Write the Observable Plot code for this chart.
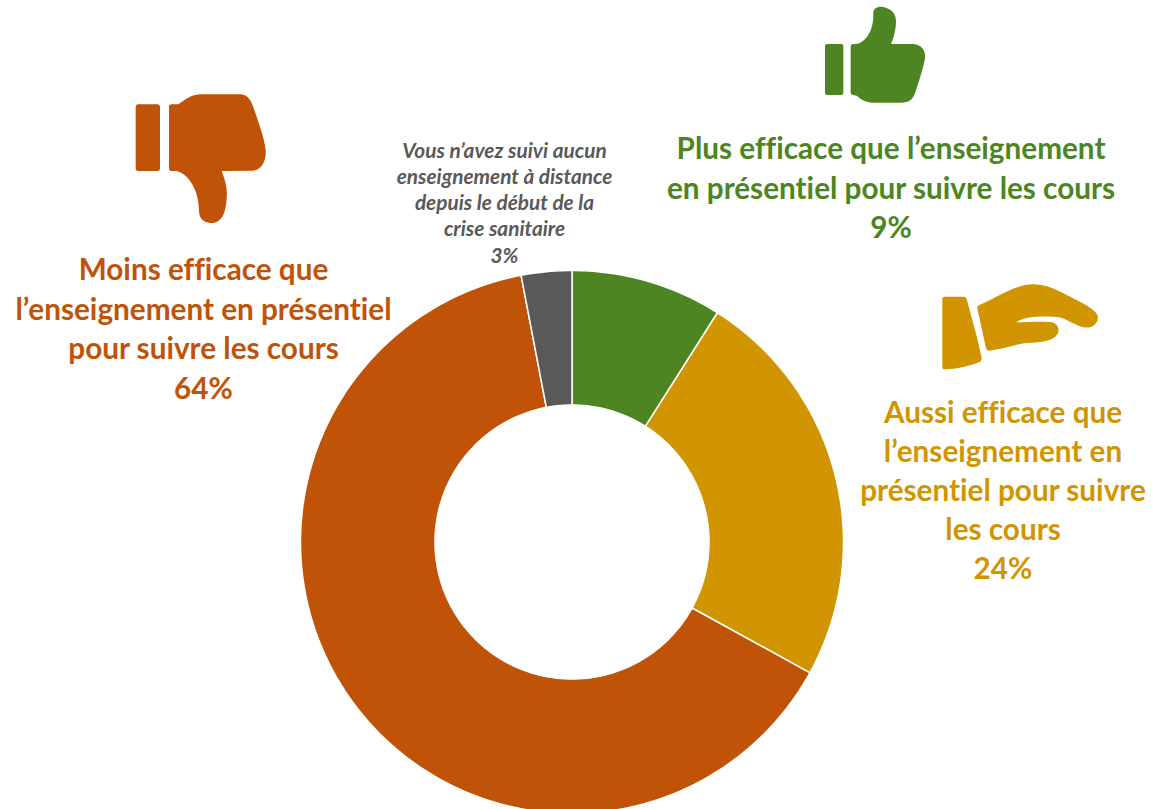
<!DOCTYPE html>
<html lang="fr">
<head>
<meta charset="utf-8">
<script src="https://cdn.jsdelivr.net/npm/d3@7"></script>
<script src="https://cdn.jsdelivr.net/npm/@observablehq/plot@0.6"></script>
<style>
html,body{margin:0;padding:0;background:#fff;overflow:hidden}
svg{display:block;font-variant-ligatures:none}
</style>
</head>
<body>
<div id="chart"></div>
<script>
// Data, clockwise from 12 o'clock
const categories = ["Plus efficace", "Aussi efficace", "Moins efficace", "Aucun enseignement"];
const values = [9, 24, 64, 3];
const labelLines = [
  ["Plus efficace que l’enseignement", "en présentiel pour suivre les cours", "9%"],
  ["Aussi efficace que", "l’enseignement en", "présentiel pour suivre", "les cours", "24%"],
  ["Moins efficace que", "l’enseignement en présentiel", "pour suivre les cours", "64%"],
  ["Vous n’avez suivi aucun", "enseignement à distance", "depuis le début de la", "crise sanitaire", "3%"]
];

// Styles and layout
const colors = ["#4c8522", "#d09500", "#c05308", "#595959"];
const labelX = [890.5, 1002.5, 203, 504];
const labelY = [[149, 189, 228], [412.5, 451.5, 490.5, 529.5, 568.5], [270, 309.5, 349, 388.5], [151, 177, 203, 229, 256]];
const center = [571.5, 541.5], rOuter = 271.5, rInner = 137;
const W = 1153, H = 809;

// Donut wedges as closed outlines computed from the values
const total = d3.sum(values);
const wedges = [];
let cum = 0;
values.forEach((v, i) => {
  const a0 = cum / total * 2 * Math.PI, a1 = (cum + v) / total * 2 * Math.PI;
  cum += v;
  const n = Math.max(8, Math.ceil(v * 4));
  const pts = [];
  for (let k = 0; k <= n; k++) pts.push([a0 + (a1 - a0) * k / n, rOuter]);
  for (let k = n; k >= 0; k--) pts.push([a0 + (a1 - a0) * k / n, rInner]);
  pts.push(pts[0]);
  for (const [a, r] of pts) wedges.push({
    cat: categories[i], fill: colors[i],
    x: center[0] + r * Math.sin(a), y: center[1] - r * Math.cos(a)
  });
});

const textRows = labelLines.flatMap((lines, i) => lines.map((t, j) => ({
  t, x: labelX[i], y: labelY[i][j], fill: colors[i], italic: i === 3
})));

// Pictograms
const icons = [
  {fill: colors[0], tx: 810, ty: 0, d: [
    "M45,138 Q45,132 51,132 L94,132 Q100,132 100,138 L100,279 Q100,285 94,285 L51,285 Q45,285 45,279 Z",
    "M122,140 Q122,132 130,132 L140,132 C170,125 190,90 190,45 C188,25 200,20 215,20 C245,25 258,40 258,65 C258,90 250,115 243,132 L310,132 C335,135 348,150 345,175 C340,205 325,250 315,280 C308,300 295,308 275,308 L190,308 C165,308 150,295 140,287 L130,285 Q122,285 122,277 Z"]},
  {fill: colors[2], tx: 125, ty: 85, d: [
    "M32,66 Q32,58 40,58 L97,58 Q105,58 105,66 L105,250 Q105,258 97,258 L40,258 Q32,258 32,250 Z",
    "M132,65 Q132,58 140,58 L160,58 C180,45 195,30 225,28 L345,28 C370,28 380,50 388,75 C400,110 418,160 422,195 C425,225 410,255 385,257 L290,258 C300,285 308,310 305,340 C303,375 295,412 262,414 C235,415 222,400 222,375 C222,330 200,270 155,258 L140,258 Q132,258 132,250 Z"]},
  {fill: colors[1], tx: 930, ty: 275, d: [
    "M37,72 Q37,65 45,65 L100,65 Q108,65 110,72 C125,130 145,195 155,250 Q155,258 148,262 C115,275 80,282 45,283 Q37,283 37,275 Z",
    "M142,100 Q140,93 148,90 C190,72 240,40 285,30 C325,22 365,35 400,55 C440,75 480,95 495,110 C510,125 505,145 485,155 C465,162 450,155 430,145 C410,135 395,125 370,125 C330,125 290,122 258,142 C290,142 340,138 365,142 C385,147 390,165 382,178 C370,198 340,202 290,204 C260,206 230,220 178,227 Q170,227 168,220 Z"]}
];
const iconMark = () => {
  const g = d3.create("svg:g");
  for (const ic of icons) {
    const s = g.append("g").attr("transform", `translate(${ic.tx},${ic.ty}) scale(${1/3})`).attr("fill", ic.fill);
    for (const d of ic.d) s.append("path").attr("d", d);
  }
  return g.node();
};

const font = "Lato, Carlito, Calibri, sans-serif";
const textMark = (rows, size, italic) => Plot.text(rows, {
  x: "x", y: "y", text: "t", fill: "fill", fontSize: size, fontWeight: 700,
  fontStyle: italic ? "italic" : "normal", textAnchor: "middle", lineAnchor: "middle"
});

const chart = Plot.plot({
  width: W, height: H, margin: 0,
  style: {fontFamily: font, background: "#fff"},
  x: {domain: [0, W], range: [0, W], axis: null},
  y: {domain: [0, H], range: [0, H], axis: null},
  marks: [
    Plot.line(wedges, {x: "x", y: "y", z: "cat", fill: "fill", stroke: "#fff", strokeWidth: 1.5, curve: "linear"}),
    iconMark,
    textMark(textRows.filter(d => !d.italic), 29.7, false),
    textMark(textRows.filter(d => d.italic), 20.8, true)
  ]
});
document.getElementById("chart").append(chart);
</script>
</body>
</html>
